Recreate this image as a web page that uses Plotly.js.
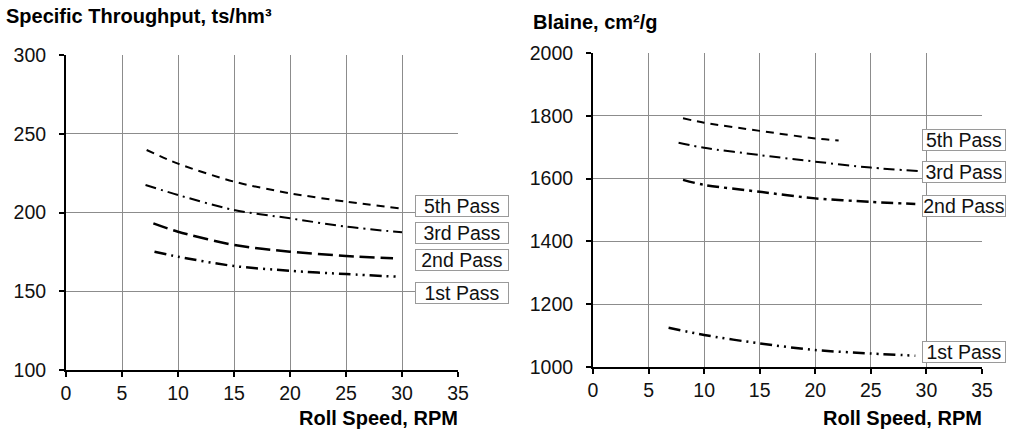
<!DOCTYPE html>
<html><head><meta charset="utf-8">
<script src="https://cdn.plot.ly/plotly-3.0.1.min.js"></script>
<style>html,body{margin:0;padding:0;background:#fff}#c{width:1012px;height:434px}</style>
</head><body><div id="c"></div>
<script>
// ---- Data ----
const passNames = ["5th Pass", "3rd Pass", "2nd Pass", "1st Pass"];
const rollSpeedTicks = [0, 5, 10, 15, 20, 25, 30, 35];

// Left: Specific Throughput, ts/hm3
const thr5_x = [7.2, 10, 15, 20, 25, 29.7];
const thr5_y = [239.7, 231, 219.6, 212.2, 206.9, 202.7];
const thr3_x = [7.1, 10, 15, 20, 25, 30];
const thr3_y = [217.5, 211.1, 201.6, 196.3, 191.0, 187.4];
const thr2_x = [7.8, 10, 15, 20, 25, 29.2];
const thr2_y = [193.1, 187.8, 179.4, 175.1, 172.4, 170.9];
const thr1_x = [7.9, 10, 15, 20, 25, 29.7];
const thr1_y = [175.1, 171.9, 166.0, 163.0, 160.9, 159.2];

// Right: Blaine, cm2/g
const bl5_x = [8.1, 10, 15, 20, 22.1];
const bl5_y = [1792, 1778, 1752, 1728, 1721];
const bl3_x = [7.7, 10, 15, 20, 25, 29.3];
const bl3_y = [1714, 1698, 1675, 1654, 1635, 1624];
const bl2_x = [8.1, 10, 15, 20, 25, 29];
const bl2_y = [1596, 1580, 1558, 1537, 1526, 1519];
const bl1_x = [6.8, 10, 15, 20, 25, 29];
const bl1_y = [1125, 1102, 1075, 1054, 1043, 1036];

// label anchor positions (data coords)
const thrLabelX = 31.2;
const thrLabelY = [204.1, 187.0, 169.8, 148.9];
const blLabelX = 29.6;
const blLabelY = [1723, 1621, 1513, 1048];

// ---- Styles ----
const FONT = "Liberation Sans, Arial, sans-serif";
const dashes = {
  p5: "8px,6px",
  p3: "11px,5px,2px,5px",
  p2L: "15px,6px",
  p2R: "12px,5px,3px,5px",
  p1: "12px,5px,2px,5px,2px,5px"
};
function tr(x, y, xa, ya, dash, w) {
  return {x: x, y: y, xaxis: xa, yaxis: ya, mode: "lines", type: "scatter",
    line: {color: "#000", width: w, dash: dash, shape: "spline", smoothing: 0.8},
    hoverinfo: "skip", showlegend: false};
}
const data = [
  tr(thr5_x, thr5_y, "x", "y", dashes.p5, 2),
  tr(thr3_x, thr3_y, "x", "y", dashes.p3, 2),
  tr(thr2_x, thr2_y, "x", "y", dashes.p2L, 2.5),
  tr(thr1_x, thr1_y, "x", "y", dashes.p1, 2.5),
  tr(bl5_x, bl5_y, "x2", "y2", dashes.p5, 2),
  tr(bl3_x, bl3_y, "x2", "y2", dashes.p3, 2),
  tr(bl2_x, bl2_y, "x2", "y2", dashes.p2R, 2.5),
  tr(bl1_x, bl1_y, "x2", "y2", dashes.p1, 2.5)
];

const axCommon = {
  showline: true, linecolor: "#000", linewidth: 2,
  showgrid: true, gridcolor: "#8c8c8c", gridwidth: 1,
  zeroline: false, ticks: "outside", ticklen: 5, tickwidth: 2, tickcolor: "#000",
  tickfont: {family: FONT, size: 19.5, color: "#111"}, fixedrange: true
};
const W = 1012, H = 434;
const layout = {
  width: W, height: H, margin: {l: 0, r: 0, t: 0, b: 0},
  paper_bgcolor: "#fff", plot_bgcolor: "#fff",
  xaxis: Object.assign({}, axCommon, {domain: [66 / W, 458 / W], range: [0, 35],
    tickvals: rollSpeedTicks, anchor: "y"}),
  yaxis: Object.assign({}, axCommon, {domain: [1 - 370 / H, 1 - 55 / H], range: [100, 300],
    dtick: 50, anchor: "x", ticklabelstandoff: 9}),
  xaxis2: Object.assign({}, axCommon, {domain: [593 / W, 982 / W], range: [0, 35],
    tickvals: rollSpeedTicks, anchor: "y2"}),
  yaxis2: Object.assign({}, axCommon, {domain: [1 - 367 / H, 1 - 53 / H], range: [1000, 2000],
    dtick: 200, anchor: "x2", ticklabelstandoff: 9}),
  annotations: []
};
const ann = layout.annotations;
passNames.forEach((n, i) => {
  const common = {text: n, xanchor: "left", yanchor: "middle", showarrow: false,
    font: {family: FONT, size: 19.5, color: "#111"}, bgcolor: "#fff",
    bordercolor: "#9a9a9a", borderwidth: 1, borderpad: 0, width: 92, height: 20, align: "center"};
  ann.push(Object.assign({}, common, {xref: "x", yref: "y", x: thrLabelX, y: thrLabelY[i]}));
  ann.push(Object.assign({}, common, {xref: "x2", yref: "y2", x: blLabelX, y: blLabelY[i], width: 82}));
});
const tf = {family: FONT, size: 20, color: "#000", weight: "bold"};
ann.push({text: "<b>Specific Throughput, ts/hm³</b>", xref: "paper", yref: "paper", x: 4 / W, y: 1 - 3 / H,
  xanchor: "left", yanchor: "top", showarrow: false, font: tf});
ann.push({text: "<b>Blaine, cm²/g</b>", xref: "paper", yref: "paper", x: 531 / W, y: 1 - 9 / H,
  xanchor: "left", yanchor: "top", showarrow: false, font: tf});
ann.push({text: "<b>Roll Speed, RPM</b>", xref: "paper", yref: "paper", x: 460 / W, y: 1 - 418 / H,
  xanchor: "right", yanchor: "middle", showarrow: false, font: tf});
ann.push({text: "<b>Roll Speed, RPM</b>", xref: "paper", yref: "paper", x: 984 / W, y: 1 - 418 / H,
  xanchor: "right", yanchor: "middle", showarrow: false, font: tf});

Plotly.newPlot("c", data, layout, {staticPlot: true, displayModeBar: false});
</script></body></html>
